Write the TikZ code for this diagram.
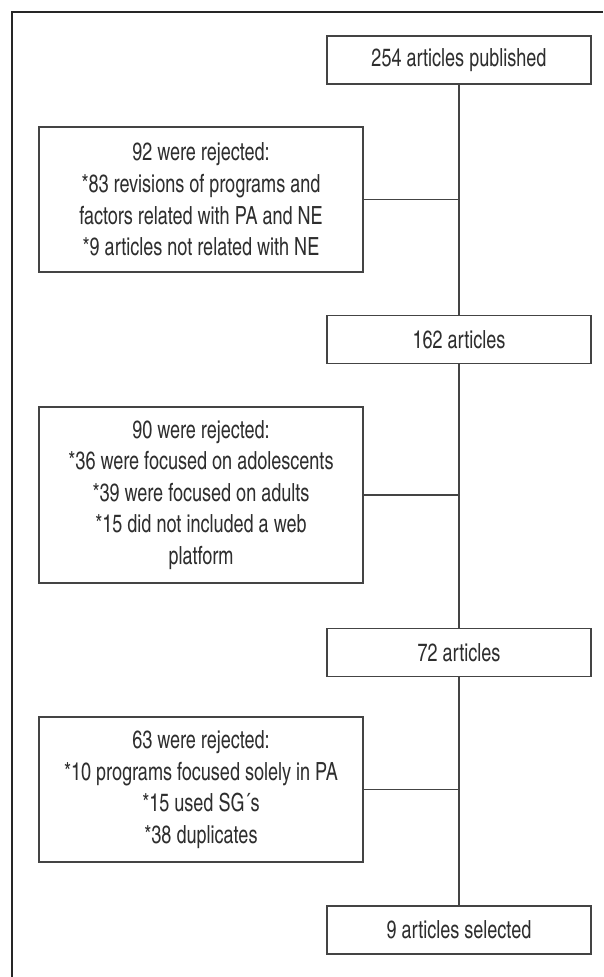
\documentclass[tikz,border=0pt]{standalone}
\usepackage{xcolor}
\usepackage{fontspec}
\setmainfont{texgyreheroscn-regular.otf}[FakeStretch=0.88]
\usepackage{tikz}
\usetikzlibrary{positioning, calc}
\definecolor{inkgray}{HTML}{2E2E2E}
\definecolor{linegray}{HTML}{444444}
\newcommand{\flowfont}{\fontsize{25}{31.6}\selectfont}
\begin{document}
\begin{tikzpicture}[x=1pt, y=-1pt, every node/.style={font=\flowfont, text=inkgray}]
	\tikzstyle{stagec}=[rectangle, draw=linegray, line width=1.4pt, minimum width=264pt, minimum height=48pt, inner sep=0pt]
	\tikzstyle{rejc}=[rectangle, draw=linegray, line width=1.4pt, minimum width=324pt, align=center, inner sep=0pt]
	\tikzstyle{flow}=[draw=linegray, line width=1.4pt]
	\useasboundingbox (0,0) rectangle (603,977);
	% outer frame, cut off at right and bottom
	\draw[line width=2.6pt, black!85] (12,977) -- (12,12) -- (603,12);
	% main stages
	\node (s01) at (459,60) [stagec]{254 articles published};
	\node (s02) at (459,339.5) [stagec]{162 articles};
	\node (s03) at (459,652.5) [stagec]{72 articles};
	\node (s04) at (459,930) [stagec]{9 articles selected};
	% rejected ones
	\node (r01) at (201,199.5) [rejc, minimum height=145pt]{92 were rejected:\\*83 revisions of programs and\\factors related with PA and NE\\*9 articles not related with NE};
	\node (r02) at (201,495) [rejc, minimum height=176pt]{90 were rejected:\\*36 were focused on adolescents\\*39 were focused on adults\\*15 did not included a web\\platform};
	\node (r03) at (201,789.5) [rejc, minimum height=145pt]{63 were rejected:\\*10 programs focused solely in PA\\*15 used SG´s\\*38 duplicates};
	\draw[flow] (s01) -- (s02);
	\draw[flow] (s02) -- (s03);
	\draw[flow] (s03) -- (s04);
	\draw[flow] (r01.east) -- (r01.east -| s01.south);
	\draw[flow] (r02.east) -- (r02.east -| s02.south);
	\draw[flow] (r03.east) -- (r03.east -| s03.south);
\end{tikzpicture}
\end{document}
